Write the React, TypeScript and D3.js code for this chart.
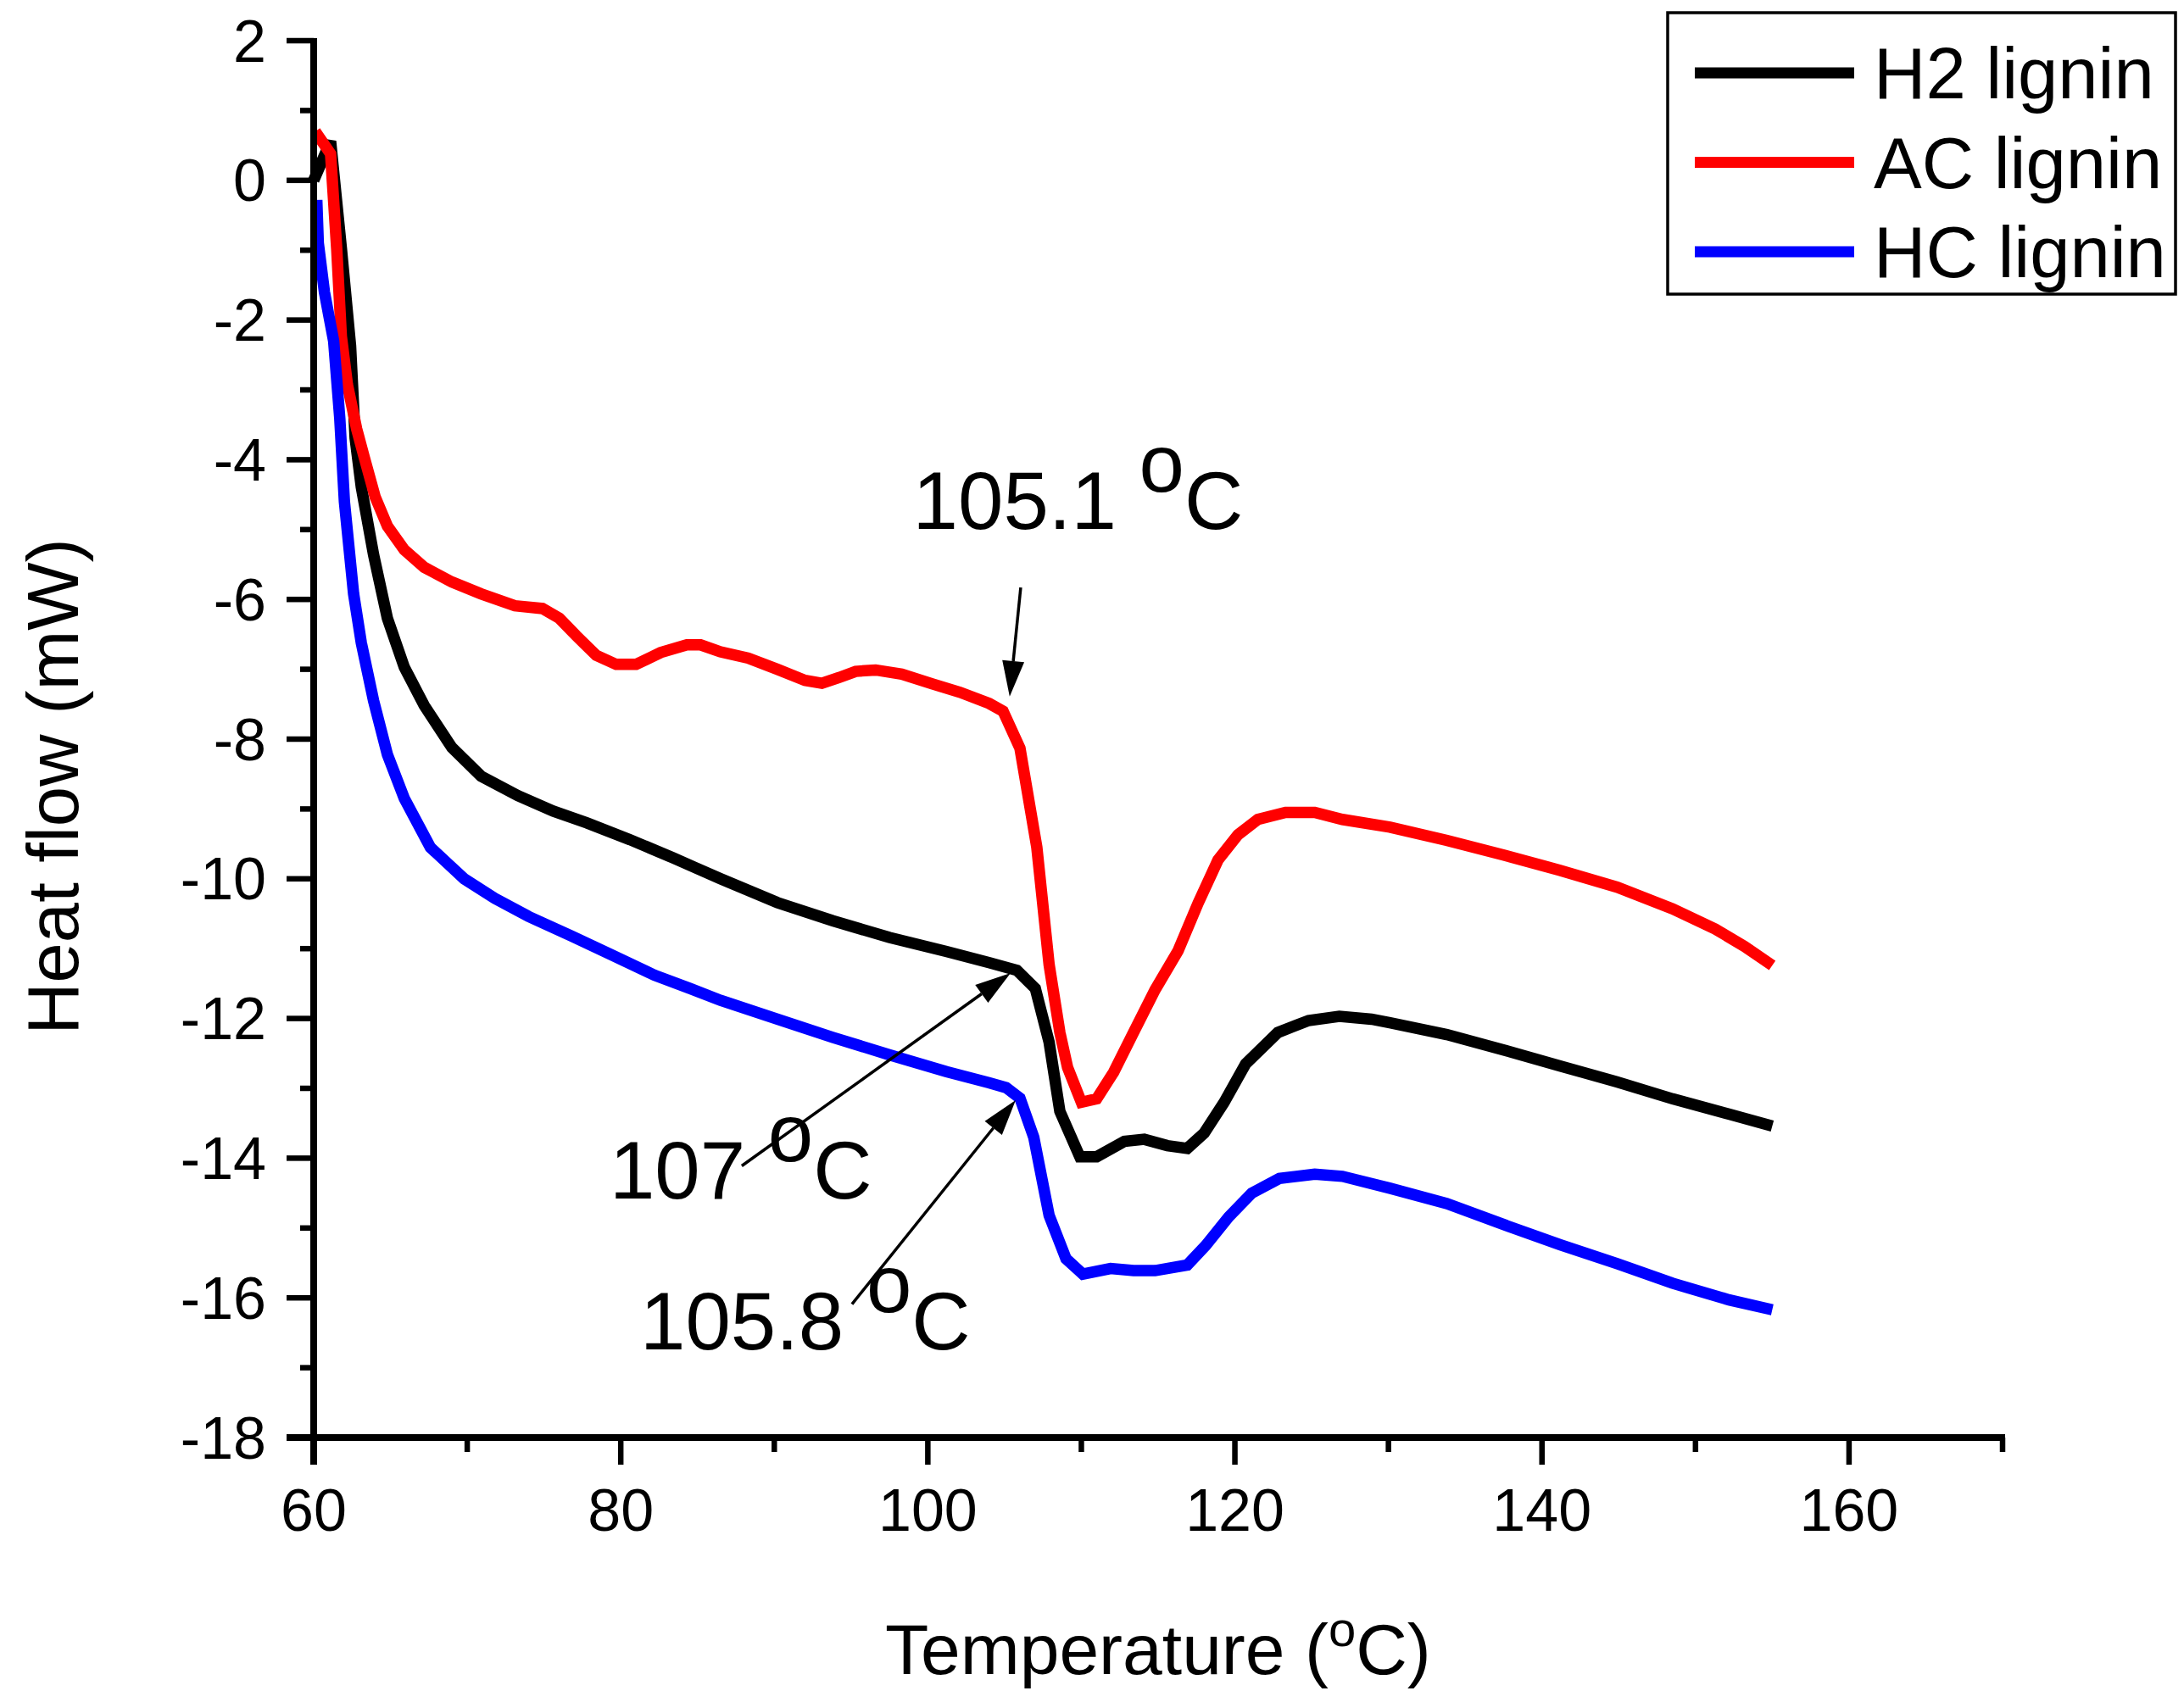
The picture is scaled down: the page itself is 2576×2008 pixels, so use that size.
import React from 'react';
import * as d3 from 'd3';

// H2 lignin (black)
const h2Temp = [60.0, 61.1, 61.8, 62.4, 62.7, 63.1, 63.9, 64.8, 65.9, 67.2, 69.0, 70.9, 73.3, 75.6, 77.8, 80.6, 83.4, 86.5, 90.2, 93.8, 97.5, 101.2, 104.0, 105.8, 107.0, 107.9, 108.6, 109.9, 111.0, 112.8, 114.1, 115.6, 116.9, 118.0, 119.3, 120.7, 122.8, 124.8, 126.8, 128.9, 130.1, 133.8, 137.5, 141.2, 144.9, 148.5, 152.2, 155.0];
const h2Flow = [0.0, 0.56, -0.97, -2.37, -3.69, -4.39, -5.36, -6.27, -6.97, -7.52, -8.12, -8.53, -8.81, -9.03, -9.2, -9.44, -9.7, -10.0, -10.34, -10.6, -10.84, -11.04, -11.2, -11.31, -11.57, -12.34, -13.33, -13.98, -13.98, -13.76, -13.73, -13.82, -13.86, -13.64, -13.2, -12.65, -12.2, -12.03, -11.97, -12.01, -12.06, -12.23, -12.45, -12.68, -12.91, -13.15, -13.37, -13.54];

// AC lignin (red)
const acTemp = [60.1, 61.1, 61.5, 61.8, 62.2, 62.8, 63.3, 64.0, 64.8, 65.9, 67.2, 69.0, 70.9, 73.1, 74.9, 76.0, 77.1, 78.4, 79.7, 81.0, 82.6, 84.3, 85.2, 86.5, 88.3, 90.2, 92.0, 93.1, 94.2, 95.3, 96.6, 98.3, 100.3, 102.1, 104.0, 104.9, 106.0, 107.1, 107.9, 108.6, 109.1, 110.0, 111.0, 112.1, 113.4, 114.8, 116.3, 117.6, 118.9, 120.2, 121.5, 123.3, 125.2, 127.0, 130.1, 133.8, 137.5, 141.2, 144.9, 148.5, 151.3, 153.2, 155.0];
const acFlow = [0.7, 0.38, -0.98, -2.23, -2.93, -3.56, -3.97, -4.53, -4.95, -5.29, -5.54, -5.75, -5.92, -6.09, -6.13, -6.27, -6.52, -6.8, -6.93, -6.93, -6.76, -6.65, -6.65, -6.75, -6.84, -7.0, -7.16, -7.2, -7.12, -7.03, -7.01, -7.07, -7.21, -7.33, -7.49, -7.6, -8.13, -9.55, -11.23, -12.2, -12.7, -13.2, -13.15, -12.77, -12.2, -11.59, -11.03, -10.35, -9.73, -9.37, -9.15, -9.05, -9.05, -9.15, -9.26, -9.45, -9.66, -9.88, -10.12, -10.43, -10.72, -10.97, -11.24];

// HC lignin (blue)
const hcTemp = [60.2, 60.3, 60.7, 61.3, 61.7, 62.0, 62.6, 63.1, 63.9, 64.8, 65.9, 67.6, 69.8, 71.8, 74.0, 76.8, 79.5, 82.2, 84.5, 86.5, 90.2, 93.8, 97.5, 101.2, 104.0, 105.1, 106.0, 106.9, 107.9, 109.0, 110.1, 111.9, 113.4, 114.8, 116.9, 118.1, 119.6, 121.1, 122.9, 125.2, 127.0, 130.1, 133.8, 137.5, 141.2, 144.9, 148.5, 152.2, 155.0];
const hcFlow = [-0.28, -0.9, -1.6, -2.3, -3.41, -4.6, -5.92, -6.62, -7.45, -8.22, -8.85, -9.55, -10.0, -10.28, -10.54, -10.82, -11.1, -11.38, -11.57, -11.74, -12.01, -12.27, -12.52, -12.76, -12.92, -12.99, -13.14, -13.7, -14.82, -15.44, -15.66, -15.58, -15.61, -15.61, -15.53, -15.25, -14.84, -14.5, -14.29, -14.23, -14.26, -14.43, -14.65, -14.95, -15.24, -15.51, -15.79, -16.03, -16.17];

const seriesNames = ['H2 lignin', 'AC lignin', 'HC lignin'];
const seriesColors = ['#000000', '#ff0000', '#0000ff'];

const xMajorTicks = [60, 80, 100, 120, 140, 160];
const xMinorTicks = [70, 90, 110, 130, 150, 170];
const yMajorTicks = [2, 0, -2, -4, -6, -8, -10, -12, -14, -16, -18];
const yMinorTicks = [1, -1, -3, -5, -7, -9, -11, -13, -15, -17];

// annotation labels and arrows (in data units)
const annoLabels = ['105.1', '107', '105.8'];
const annoTextAt = [[99.02, -4.99], [79.27, -14.58], [81.26, -16.74]];
const annoTail = [[106.05, -5.83], [87.88, -14.11], [95.06, -16.09]];
const annoTip = [[105.33, -7.39], [105.39, -11.35], [105.72, -13.17]];

const W = 2576;
const H = 2008;
const FONT = '"Liberation Sans", Arial, Helvetica, sans-serif';

const Arrow: React.FC<{ x1: number; y1: number; x2: number; y2: number }> = ({ x1, y1, x2, y2 }) => {
  const ang = Math.atan2(y2 - y1, x2 - x1);
  const len = 42;
  const half = 13;
  const bx = x2 - len * Math.cos(ang);
  const by = y2 - len * Math.sin(ang);
  const px = -Math.sin(ang) * half;
  const py = Math.cos(ang) * half;
  return (
    <g>
      <line x1={x1} y1={y1} x2={bx} y2={by} stroke="#000" strokeWidth={3.5} />
      <polygon points={`${x2},${y2} ${bx + px},${by + py} ${bx - px},${by - py}`} fill="#000" />
    </g>
  );
};

const App: React.FC = () => {
  const x = d3.scaleLinear().domain([60, 170]).range([370, 2362]);
  const y = d3.scaleLinear().domain([-18, 2]).range([1696, 48]);

  const series = [
    h2Temp.map((t, i) => [t, h2Flow[i]] as [number, number]),
    acTemp.map((t, i) => [t, acFlow[i]] as [number, number]),
    hcTemp.map((t, i) => [t, hcFlow[i]] as [number, number]),
  ];

  const line = d3.line<[number, number]>()
    .x(d => x(d[0]))
    .y(d => y(d[1]))
    .curve(d3.curveLinear);

  const x0 = x(60);
  const y0 = y(-18);

  return (
    <svg
      width={W}
      height={H}
      viewBox={`0 0 ${W} ${H}`}
      style={{ position: 'absolute', left: 0, top: 0, background: '#fff' }}
      fontFamily={FONT}
    >
      <rect x={0} y={0} width={W} height={H} fill="#fff" />

      {/* Curves */}
      {series.map((s, i) => (
        <path
          key={i}
          d={line(s) || ''}
          fill="none"
          stroke={seriesColors[i]}
          strokeWidth={13.5}
          strokeLinejoin="miter"
          strokeMiterlimit={3}
        />
      ))}

      {/* Axes */}
      <line x1={x0} y1={y(2) - 3} x2={x0} y2={y0 + 32} stroke="#000" strokeWidth={8} />
      <line x1={x0 - 32} y1={y0} x2={x(170) + 3} y2={y0} stroke="#000" strokeWidth={8} />

      {/* Y ticks */}
      {yMajorTicks.map(t => (
        <g key={`ym${t}`}>
          <line x1={x0 - 32} x2={x0} y1={y(t)} y2={y(t)} stroke="#000" strokeWidth={6.5} />
          <text x={x0 - 56} y={y(t)} dy="0.35em" textAnchor="end" fontSize={70}>{t}</text>
        </g>
      ))}
      {yMinorTicks.map(t => (
        <line key={`yn${t}`} x1={x0 - 16} x2={x0} y1={y(t)} y2={y(t)} stroke="#000" strokeWidth={6.5} />
      ))}

      {/* X ticks */}
      {xMajorTicks.map(t => (
        <g key={`xm${t}`}>
          <line x1={x(t)} x2={x(t)} y1={y0} y2={y0 + 32} stroke="#000" strokeWidth={6.5} />
          <text x={x(t)} y={y0 + 110} textAnchor="middle" fontSize={70}>{t}</text>
        </g>
      ))}
      {xMinorTicks.map(t => (
        <line key={`xn${t}`} x1={x(t)} x2={x(t)} y1={y0} y2={y0 + 17} stroke="#000" strokeWidth={6.5} />
      ))}

      {/* Axis titles */}
      <text x={1044} y={1975} fontSize={84}>
        Temperature (<tspan fontSize={58} dy={-33}>o</tspan><tspan dy={33}>C)</tspan>
      </text>
      <text transform="translate(92, 928) rotate(-90)" textAnchor="middle" fontSize={85}>
        Heat flow (mW)
      </text>

      {/* Annotations */}
      {annoLabels.map((lab, i) => (
        <g key={lab}>
          <text x={x(annoTextAt[i][0])} y={y(annoTextAt[i][1])} fontSize={96}>
            {lab}{' '}<tspan dy={-44}>o</tspan><tspan dy={44}>C</tspan>
          </text>
          <Arrow
            x1={x(annoTail[i][0])}
            y1={y(annoTail[i][1])}
            x2={x(annoTip[i][0])}
            y2={y(annoTip[i][1])}
          />
        </g>
      ))}

      {/* Legend */}
      <rect x={1967} y={15} width={599} height={332} fill="#fff" stroke="#000" strokeWidth={3.5} />
      {seriesNames.map((name, i) => (
        <g key={name}>
          <line x1={1999} x2={2187} y1={86 + i * 105.5} y2={86 + i * 105.5} stroke={seriesColors[i]} strokeWidth={13} />
          <text x={2210} y={116 + i * 105.5} fontSize={85}>{name}</text>
        </g>
      ))}
    </svg>
  );
};

export default App;
